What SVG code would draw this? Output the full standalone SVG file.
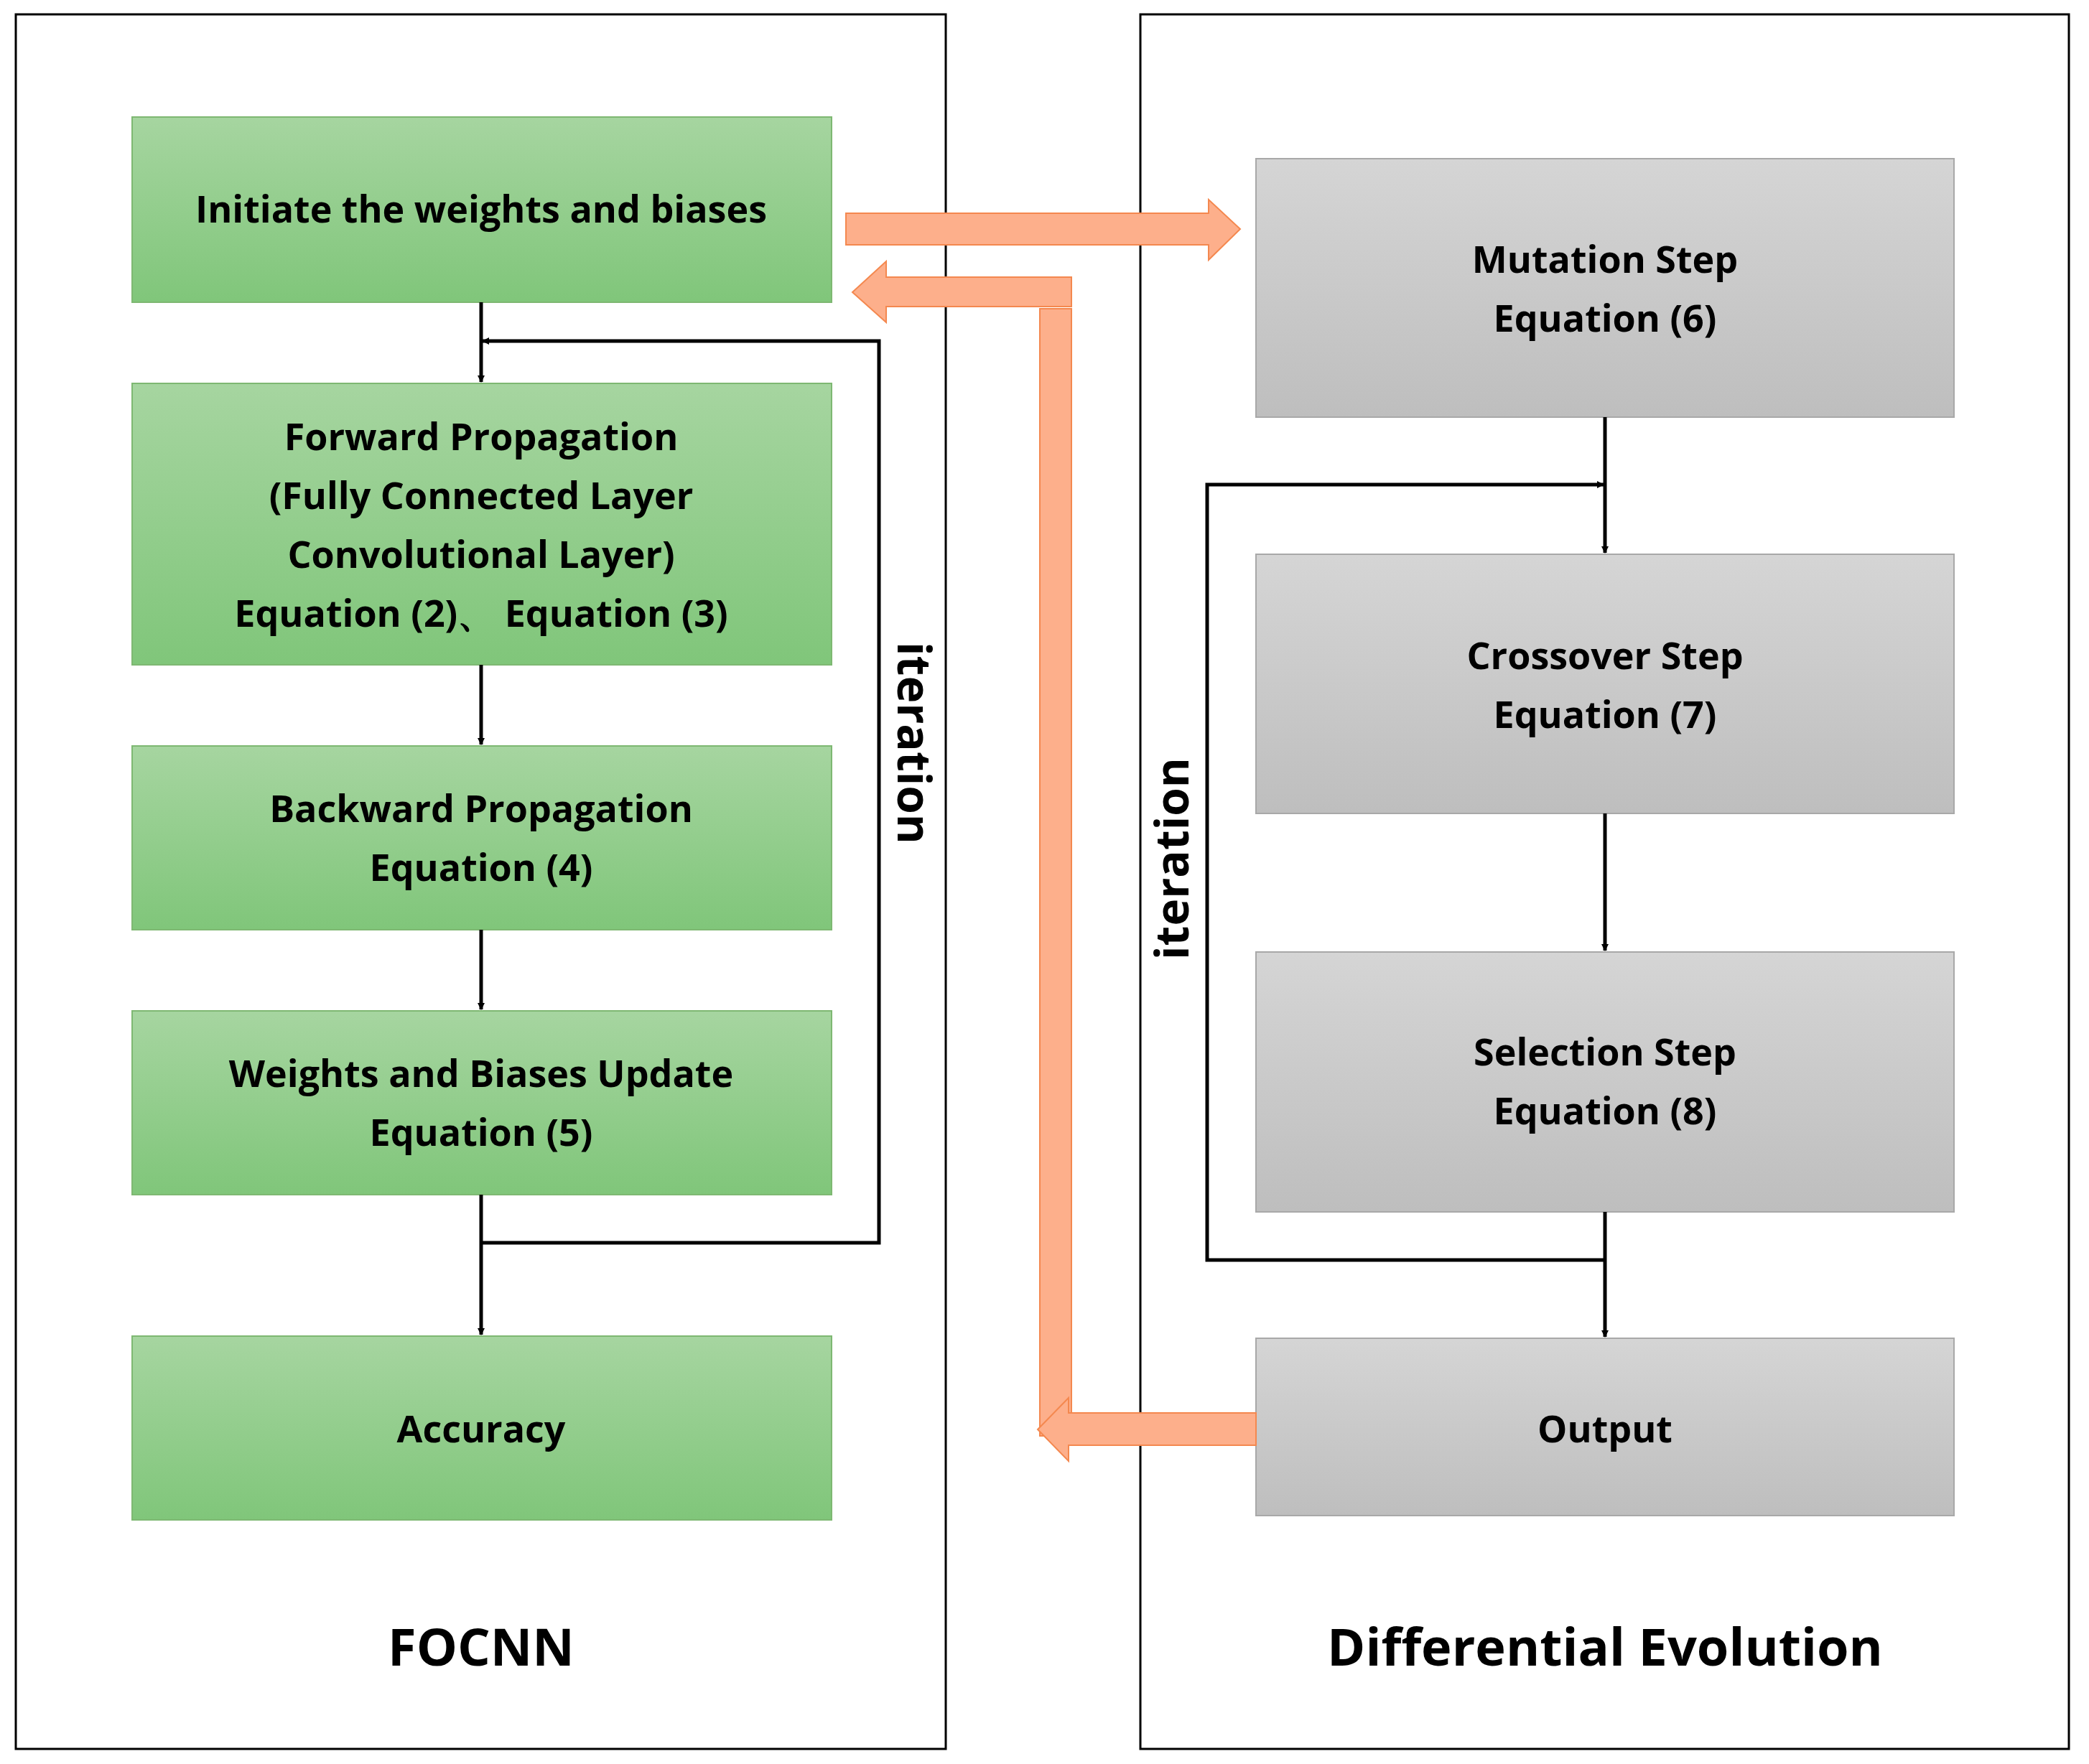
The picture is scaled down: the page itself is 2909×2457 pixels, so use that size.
<svg xmlns="http://www.w3.org/2000/svg" width="2909" height="2457" viewBox="0 0 2909 2457">
<defs>
<linearGradient id="g" x1="0" y1="0" x2="0" y2="1"><stop offset="0" stop-color="#A6D5A0"/><stop offset="1" stop-color="#80C67A"/></linearGradient>
<linearGradient id="s" x1="0" y1="0" x2="0" y2="1"><stop offset="0" stop-color="#D5D5D5"/><stop offset="1" stop-color="#BEBEBE"/></linearGradient>
<marker id="ah" markerWidth="10" markerHeight="10" refX="9" refY="5" orient="auto" markerUnits="userSpaceOnUse" viewBox="0 0 10 10"><path d="M0,0 L10,5 L0,10 z" fill="#000"/></marker>
<style>
.gn{fill:url(#g);stroke:#7EB872;stroke-width:2}
.gy{fill:url(#s);stroke:#A8A8A8;stroke-width:2}
.t{font-family:"Open Sans","DejaVu Sans",sans-serif;font-weight:bold;font-size:52px;text-anchor:middle;fill:#000}
.ti{font-family:"Open Sans","DejaVu Sans",sans-serif;font-weight:bold;font-size:72px;text-anchor:middle;fill:#000}
.ln{fill:none;stroke:#000;stroke-width:5}
.or{fill:#FDAF8B;stroke:#F4884F;stroke-width:2}
.pn{fill:none;stroke:#000;stroke-width:3}
</style>
</defs>
<rect width="2909" height="2457" fill="#fff"/>
<rect class="pn" x="22" y="20" width="1295" height="2416"/>
<rect class="pn" x="1588" y="20" width="1293" height="2416"/>

<g id="n1"><rect class="gn" x="184" y="163" width="974" height="258"/><text class="t" x="670" y="310">Initiate the weights and biases</text></g>
<g id="n2"><rect class="gn" x="184" y="534" width="974" height="392"/>
<text class="t" x="670" y="627">Forward Propagation</text><text class="t" x="670" y="709">(Fully Connected Layer</text><text class="t" x="670" y="791">Convolutional Layer)</text><text class="t" x="670" y="873">Equation (2)、 Equation (3)</text></g>
<g id="n3"><rect class="gn" x="184" y="1039" width="974" height="256"/><text class="t" x="670" y="1145">Backward Propagation</text><text class="t" x="670" y="1227">Equation (4)</text></g>
<g id="n4"><rect class="gn" x="184" y="1408" width="974" height="256"/><text class="t" x="670" y="1514">Weights and Biases Update</text><text class="t" x="670" y="1596">Equation (5)</text></g>
<g id="n5"><rect class="gn" x="184" y="1861" width="974" height="256"/><text class="t" x="670" y="2009">Accuracy</text></g>

<g id="m1"><rect class="gy" x="1749" y="221" width="972" height="360"/><text class="t" x="2235" y="380">Mutation Step</text><text class="t" x="2235" y="462">Equation (6)</text></g>
<g id="m2"><rect class="gy" x="1749" y="772" width="972" height="361"/><text class="t" x="2235" y="932">Crossover Step</text><text class="t" x="2235" y="1014">Equation (7)</text></g>
<g id="m3"><rect class="gy" x="1749" y="1326" width="972" height="362"/><text class="t" x="2235" y="1484">Selection Step</text><text class="t" x="2235" y="1566">Equation (8)</text></g>
<g id="m4"><rect class="gy" x="1749" y="1864" width="972" height="247"/><text class="t" x="2235" y="2009">Output</text></g>

<text class="ti" x="670" y="2320">FOCNN</text>
<text class="ti" x="2235" y="2320">Differential Evolution</text>

<g id="connectors">
<line class="ln" x1="670" y1="421" x2="670" y2="532" marker-end="url(#ah)"/>
<line class="ln" x1="670" y1="926" x2="670" y2="1037" marker-end="url(#ah)"/>
<line class="ln" x1="670" y1="1295" x2="670" y2="1406" marker-end="url(#ah)"/>
<line class="ln" x1="670" y1="1664" x2="670" y2="1859" marker-end="url(#ah)"/>
<polyline class="ln" points="670,1731 1224,1731 1224,475 672,475" marker-end="url(#ah)"/>
<text class="t" transform="translate(1250,1035) rotate(90)" style="font-size:64px">iteration</text>

<line class="ln" x1="2235" y1="581" x2="2235" y2="770" marker-end="url(#ah)"/>
<line class="ln" x1="2235" y1="1133" x2="2235" y2="1324" marker-end="url(#ah)"/>
<line class="ln" x1="2235" y1="1688" x2="2235" y2="1862" marker-end="url(#ah)"/>
<polyline class="ln" points="2235,1755 1681,1755 1681,675 2233,675" marker-end="url(#ah)"/>
<text class="t" transform="translate(1655,1196) rotate(-90)" style="font-size:64px">iteration</text>

<polygon class="or" points="1178,297 1683,297 1683,278 1727,319 1683,362 1683,341 1178,341"/>
<polygon class="or" points="1448,430 1492,430 1492,2000 1448,2000"/>
<polygon class="or" points="1492,386 1234,386 1234,364 1187,407 1234,449 1234,427 1492,427"/>
<polygon class="or" points="1749,1968 1488,1968 1488,1947 1445,1991 1488,2035 1488,2013 1749,2013"/>
</g>
</svg>
